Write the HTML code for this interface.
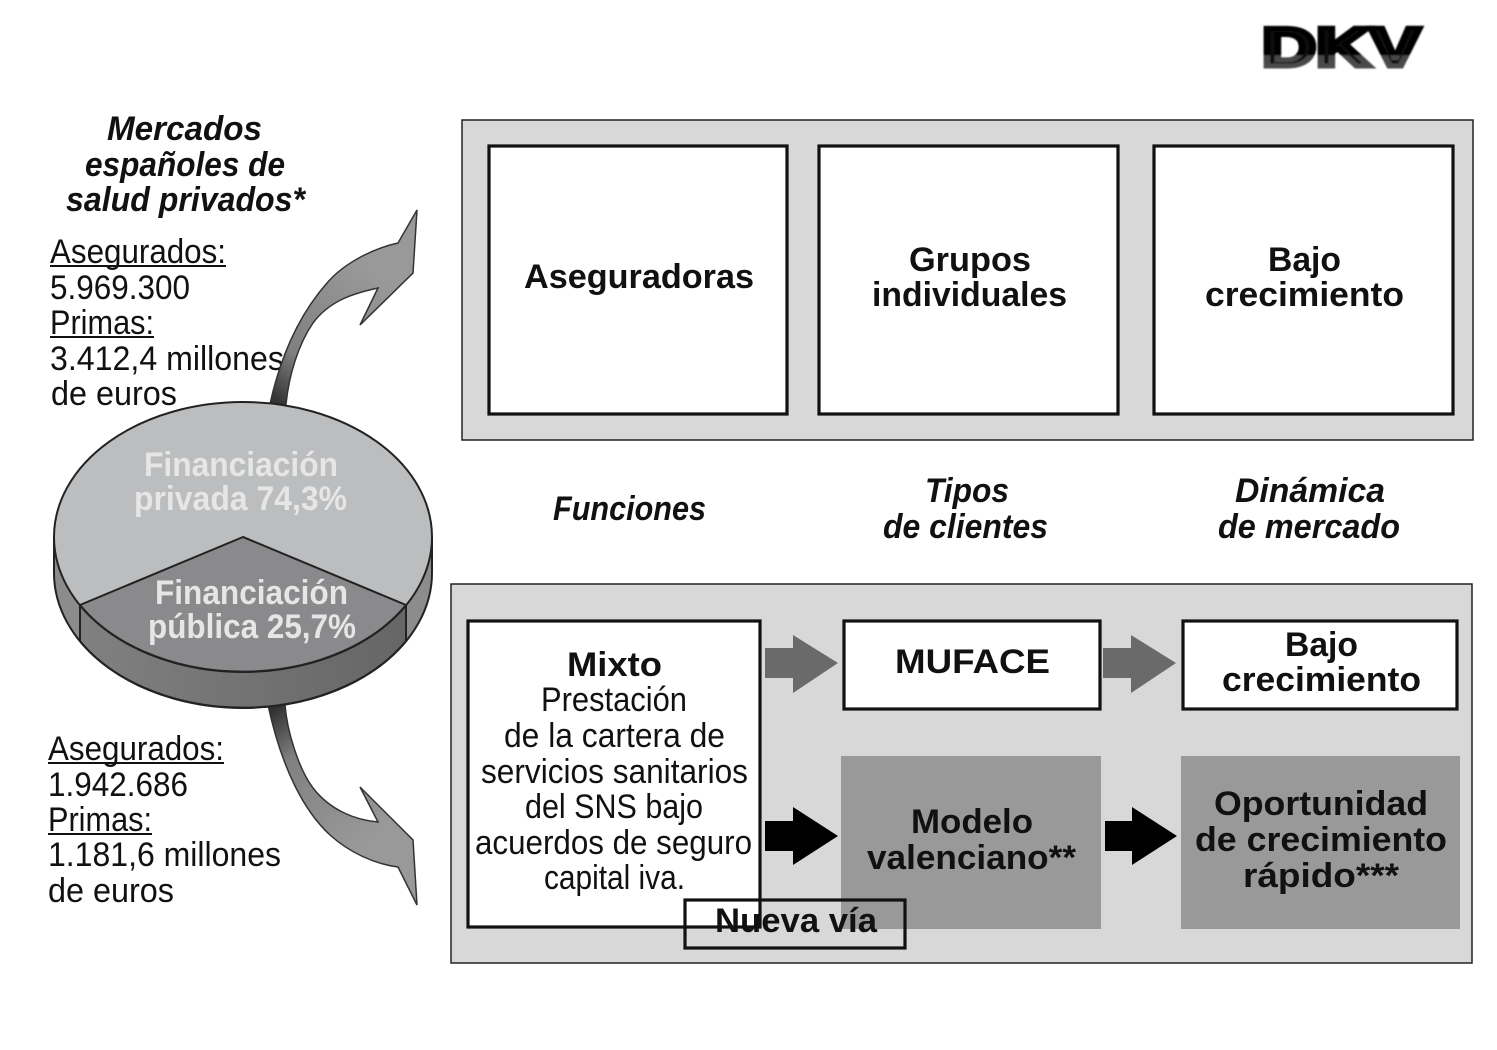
<!DOCTYPE html>
<html><head><meta charset="utf-8"><style>
html,body{margin:0;padding:0;background:#fff}
svg{display:block}
text{font-family:"Liberation Sans",sans-serif;font-size:34px;fill:#111}
.b{font-weight:bold}
.i{font-weight:bold;font-style:italic}
.w{font-weight:bold;fill:#e6e6e6}
</style></head><body>
<svg xmlns="http://www.w3.org/2000/svg" width="1497" height="1050" viewBox="0 0 1497 1050">
<defs>
<linearGradient id="dk" x1="0" y1="0" x2="0" y2="1"><stop offset="0.62" stop-color="#000"/><stop offset="0.64" stop-color="#444"/><stop offset="1" stop-color="#555"/></linearGradient>
<linearGradient id="a1" gradientUnits="userSpaceOnUse" x1="275" y1="400" x2="370" y2="270"><stop offset="0" stop-color="#333"/><stop offset="0.3" stop-color="#808080"/><stop offset="1" stop-color="#999"/></linearGradient>
<linearGradient id="a2" gradientUnits="userSpaceOnUse" x1="275" y1="710" x2="370" y2="840"><stop offset="0" stop-color="#333"/><stop offset="0.3" stop-color="#808080"/><stop offset="1" stop-color="#999"/></linearGradient>
<linearGradient id="side" x1="0" y1="0" x2="1" y2="0"><stop offset="0" stop-color="#808080"/><stop offset="1" stop-color="#666"/></linearGradient>
<filter id="bl"><feGaussianBlur stdDeviation="0.8"/></filter>
</defs>

<!-- DKV logo -->
<text x="1262" y="66" class="b" style="font-size:55px;font-weight:bold;stroke:url(#dk);stroke-width:5" fill="url(#dk)" textLength="158" lengthAdjust="spacingAndGlyphs" filter="url(#bl)">DKV</text>

<!-- Title -->
<text class="i" x="107" y="140" textLength="155" lengthAdjust="spacingAndGlyphs">Mercados</text>
<text class="i" x="85" y="176" textLength="200" lengthAdjust="spacingAndGlyphs">españoles de</text>
<text class="i" x="66" y="211" textLength="239" lengthAdjust="spacingAndGlyphs">salud privados*</text>

<!-- Upper stats -->
<text x="50" y="263" textLength="176" lengthAdjust="spacingAndGlyphs">Asegurados:</text>
<rect x="50" y="265" width="176" height="2" fill="#111"/>
<text x="50" y="299" textLength="140" lengthAdjust="spacingAndGlyphs">5.969.300</text>
<text x="50" y="334" textLength="104" lengthAdjust="spacingAndGlyphs">Primas:</text>
<rect x="50" y="336" width="104" height="2" fill="#111"/>
<text x="50" y="370" textLength="234" lengthAdjust="spacingAndGlyphs">3.412,4 millones</text>
<text x="51" y="405" textLength="126" lengthAdjust="spacingAndGlyphs">de euros</text>

<!-- Curved arrows -->
<path d="M417,210 L398,243 C375,248 345,262 327,283 C305,308 283,345 270,404 L286,404 C289,375 298,345 313,323 C330,300 355,293 378,288 L360,325 L413,273 Z" fill="url(#a1)" stroke="#333" stroke-width="1.5"/>
<path d="M268,705 L285,705 C287,730 298,768 313,788 C330,810 355,820 378,822 L360,787 L413,840 L417,905 L398,867 C375,864 350,853 330,835 C305,812 282,770 268,705 Z" fill="url(#a2)" stroke="#333" stroke-width="1.5"/>

<!-- Pie -->
<path d="M54,537 L54,573 A189,135 0 0 0 432,573 L432,537 Z" fill="#8c8c8c" stroke="#222" stroke-width="2"/>
<path d="M80,605 L80,641 A189,135 0 0 0 406,641 L406,605 A189,135 0 0 1 80,605 Z" fill="url(#side)" stroke="#222" stroke-width="2"/>
<ellipse cx="243" cy="537" rx="189" ry="135" fill="#bcbdbf" stroke="#222" stroke-width="2"/>
<path d="M243,537 L80,605 A189,135 0 0 0 406,605 Z" fill="#8a8a8c" stroke="#222" stroke-width="2"/>
<text class="w" x="144" y="476" textLength="194" lengthAdjust="spacingAndGlyphs">Financiación</text>
<text class="w" x="134" y="510" textLength="213" lengthAdjust="spacingAndGlyphs">privada 74,3%</text>
<text class="w" x="155" y="604" textLength="193" lengthAdjust="spacingAndGlyphs">Financiación</text>
<text class="w" x="148" y="638" textLength="208" lengthAdjust="spacingAndGlyphs">pública 25,7%</text>

<!-- Lower stats -->
<text x="48" y="760" textLength="176" lengthAdjust="spacingAndGlyphs">Asegurados:</text>
<rect x="48" y="762" width="176" height="2" fill="#111"/>
<text x="48" y="796" textLength="140" lengthAdjust="spacingAndGlyphs">1.942.686</text>
<text x="48" y="831" textLength="104" lengthAdjust="spacingAndGlyphs">Primas:</text>
<rect x="48" y="833" width="104" height="2" fill="#111"/>
<text x="48" y="866" textLength="233" lengthAdjust="spacingAndGlyphs">1.181,6 millones</text>
<text x="48" y="902" textLength="126" lengthAdjust="spacingAndGlyphs">de euros</text>

<!-- Top panel -->
<rect x="462" y="120" width="1011" height="320" fill="#d8d8d8" stroke="#222" stroke-width="1.5"/>
<rect x="489" y="146" width="298" height="268" fill="#fff" stroke="#111" stroke-width="3.2"/>
<rect x="819" y="146" width="299" height="268" fill="#fff" stroke="#111" stroke-width="3.2"/>
<rect x="1154" y="146" width="299" height="268" fill="#fff" stroke="#111" stroke-width="3.2"/>
<text class="b" x="524" y="288" textLength="230" lengthAdjust="spacingAndGlyphs">Aseguradoras</text>
<text class="b" x="909" y="271" textLength="122" lengthAdjust="spacingAndGlyphs">Grupos</text>
<text class="b" x="872" y="306" textLength="195" lengthAdjust="spacingAndGlyphs">individuales</text>
<text class="b" x="1268" y="271" textLength="73" lengthAdjust="spacingAndGlyphs">Bajo</text>
<text class="b" x="1205" y="306" textLength="199" lengthAdjust="spacingAndGlyphs">crecimiento</text>

<!-- Middle labels -->
<text class="i" x="553" y="520" textLength="153" lengthAdjust="spacingAndGlyphs">Funciones</text>
<text class="i" x="925" y="502" textLength="84" lengthAdjust="spacingAndGlyphs">Tipos</text>
<text class="i" x="883" y="538" textLength="165" lengthAdjust="spacingAndGlyphs">de clientes</text>
<text class="i" x="1235" y="502" textLength="150" lengthAdjust="spacingAndGlyphs">Dinámica</text>
<text class="i" x="1218" y="538" textLength="182" lengthAdjust="spacingAndGlyphs">de mercado</text>

<!-- Bottom panel -->
<rect x="451" y="584" width="1021" height="379" fill="#d8d8d8" stroke="#222" stroke-width="1.5"/>
<rect x="468" y="621" width="292" height="306" fill="#fff" stroke="#111" stroke-width="3.2"/>
<rect x="844" y="621" width="256" height="88" fill="#fff" stroke="#111" stroke-width="3.2"/>
<rect x="1183" y="621" width="274" height="88" fill="#fff" stroke="#111" stroke-width="3.2"/>
<rect x="841" y="756" width="260" height="173" fill="#999"/>
<rect x="1181" y="756" width="279" height="173" fill="#999"/>

<text class="b" x="567" y="676" textLength="95" lengthAdjust="spacingAndGlyphs">Mixto</text>
<text x="541" y="711" textLength="146" lengthAdjust="spacingAndGlyphs">Prestación</text>
<text x="504" y="747" textLength="221" lengthAdjust="spacingAndGlyphs">de la cartera de</text>
<text x="481" y="783" textLength="267" lengthAdjust="spacingAndGlyphs">servicios sanitarios</text>
<text x="525" y="818" textLength="178" lengthAdjust="spacingAndGlyphs">del SNS bajo</text>
<text x="475" y="854" textLength="277" lengthAdjust="spacingAndGlyphs">acuerdos de seguro</text>
<text x="544" y="889" textLength="141" lengthAdjust="spacingAndGlyphs">capital iva.</text>

<text class="b" x="895" y="673" textLength="155" lengthAdjust="spacingAndGlyphs">MUFACE</text>
<text class="b" x="1285" y="656" textLength="73" lengthAdjust="spacingAndGlyphs">Bajo</text>
<text class="b" x="1222" y="691" textLength="199" lengthAdjust="spacingAndGlyphs">crecimiento</text>
<text class="b" x="911" y="833" textLength="122" lengthAdjust="spacingAndGlyphs">Modelo</text>
<text class="b" x="867" y="869" textLength="209" lengthAdjust="spacingAndGlyphs">valenciano**</text>
<text class="b" x="1214" y="815" textLength="214" lengthAdjust="spacingAndGlyphs">Oportunidad</text>
<text class="b" x="1195" y="851" textLength="252" lengthAdjust="spacingAndGlyphs">de crecimiento</text>
<text class="b" x="1243" y="887" textLength="156" lengthAdjust="spacingAndGlyphs">rápido***</text>

<!-- Block arrows -->
<polygon points="765,648 793,648 793,635 838,663 793,693 793,678 765,678" fill="#6a6a6a"/>
<polygon points="1103,648 1131,648 1131,635 1176,663 1131,693 1131,678 1103,678" fill="#6a6a6a"/>
<polygon points="765,821 793,821 793,807 838,836 793,865 793,851 765,851" fill="#000"/>
<polygon points="1105,821 1132,821 1132,807 1177,836 1132,865 1132,851 1105,851" fill="#000"/>

<!-- Nueva via -->
<rect x="685" y="900" width="220" height="48" fill="none" stroke="#111" stroke-width="3.2"/>
<text class="b" x="715" y="932" textLength="162" lengthAdjust="spacingAndGlyphs">Nueva vía</text>
</svg>
</body></html>
